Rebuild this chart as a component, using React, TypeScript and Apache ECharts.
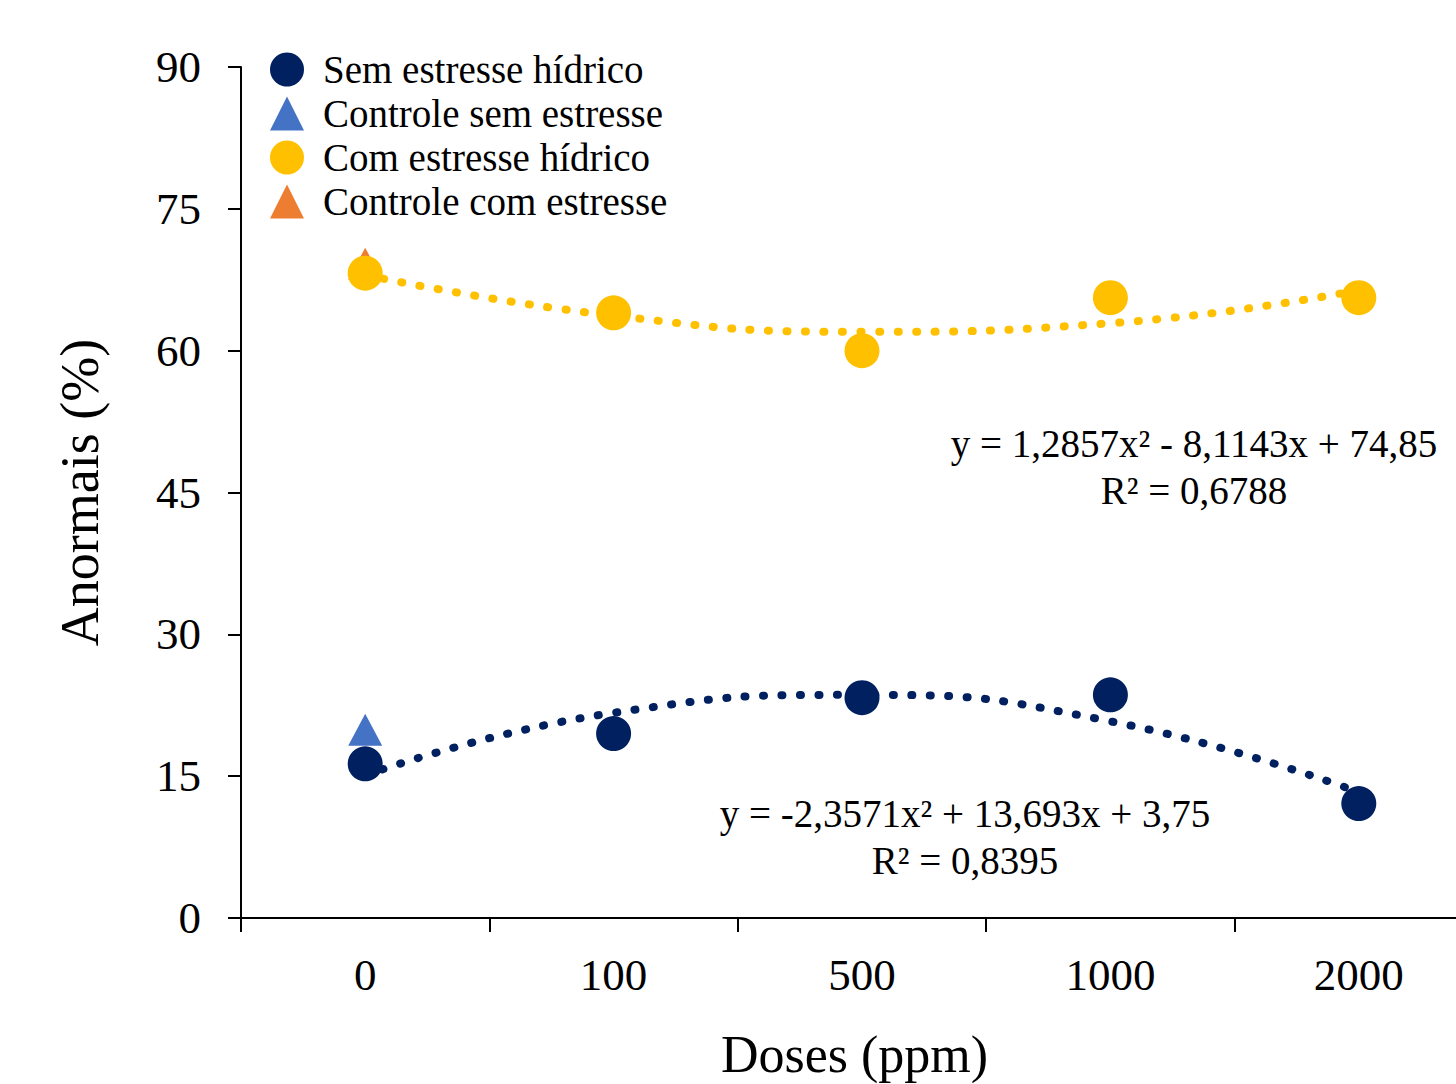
import React, { useEffect, useRef } from "react";
import * as echarts from "echarts";

const categories = ["0", "100", "500", "1000", "2000"];
const yTicks = { min: 0, max: 90, interval: 15 };

const semEstresse = [16.3, 19.5, 23.3, 23.6, 12.1];
const controleSem = [19.9, null, null, null, null];
const comEstresse = [68.2, 64.0, 60.0, 65.6, 65.6];
const controleCom = [69.2, null, null, null, null];

// trend line values read at each category (polynomial fits shown on chart)
const trendSem = [15.1, 21.7, 23.6, 20.8, 13.3];
const trendCom = [68.0, 63.7, 62.0, 62.9, 66.4];

const eqCom = ["y = 1,2857x² - 8,1143x + 74,85", "R² = 0,6788"];
const eqSem = ["y = -2,3571x² + 13,693x + 3,75", "R² = 0,8395"];

const NAVY = "#002060";
const BLUE = "#4472C4";
const YELLOW = "#FFC000";
const ORANGE = "#ED7D31";
const FONT = "'Liberation Serif', 'Times New Roman', serif";

export default function App() {
  const ref = useRef<HTMLDivElement>(null);
  useEffect(() => {
    document.body.style.margin = "0";
    const chart = echarts.init(ref.current!, null, { renderer: "svg" });
    const dotted = (color: string) => ({
      color,
      width: 8,
      type: [1, 17.5] as any,
      cap: "round" as any,
      opacity: 1,
    });
    const eqText = (x: number, y: number, text: string) => ({
      type: "text",
      x,
      y,
      style: { text, font: `39px ${FONT}`, fill: "#000", textAlign: "center", textVerticalAlign: "middle" },
    });
    chart.setOption({
      animation: false,
      backgroundColor: "#ffffff",
      textStyle: { fontFamily: FONT, color: "#000" },
      grid: { left: 241, top: 67, width: 1242, height: 851, outerBoundsMode: "none", containLabel: false },
      legend: {
        orient: "vertical",
        left: 270,
        top: 50,
        padding: 0,
        itemWidth: 34,
        itemHeight: 34,
        itemGap: 5,
        textStyle: { fontFamily: FONT, fontSize: 39, color: "#000", padding: [0, 0, 0, 14] },
        data: [
          { name: "Sem estresse hídrico", icon: "circle" },
          { name: "Controle sem estresse", icon: "triangle" },
          { name: "Com estresse hídrico", icon: "circle" },
          { name: "Controle com estresse", icon: "triangle" },
        ],
      },
      xAxis: {
        type: "category",
        data: categories,
        boundaryGap: true,
        axisLine: { lineStyle: { color: "#000", width: 2 } },
        axisTick: { show: true, length: 14, lineStyle: { color: "#000", width: 2 } },
        axisLabel: { fontFamily: FONT, fontSize: 45, color: "#000", margin: 34 },
        name: "Doses (ppm)",
        nameLocation: "middle",
        nameGap: 110,
        nameTextStyle: { fontFamily: FONT, fontSize: 52, color: "#000", padding: [0, 15, 0, 0] },
      },
      yAxis: {
        type: "value",
        min: yTicks.min,
        max: yTicks.max,
        interval: yTicks.interval,
        splitLine: { show: false },
        axisLine: { show: true, lineStyle: { color: "#000", width: 2 } },
        axisTick: { show: true, length: 13, lineStyle: { color: "#000", width: 2 } },
        axisLabel: { fontFamily: FONT, fontSize: 45, color: "#000", margin: 40 },
        name: "Anormais (%)",
        nameLocation: "middle",
        nameGap: 134,
        nameTextStyle: { fontFamily: FONT, fontSize: 54, color: "#000" },
      },
      series: [
        {
          name: "trendSem",
          type: "line",
          data: trendSem,
          smooth: 0.5,
          showSymbol: false,
          lineStyle: dotted(NAVY),
          z: 1,
        },
        {
          name: "trendCom",
          type: "line",
          data: trendCom,
          smooth: 0.5,
          showSymbol: false,
          lineStyle: dotted(YELLOW),
          z: 1,
        },
        {
          name: "Controle sem estresse",
          type: "scatter",
          data: controleSem,
          symbol: "triangle",
          symbolSize: [34, 32],
          itemStyle: { color: BLUE, opacity: 1 },
          z: 2,
        },
        {
          name: "Controle com estresse",
          type: "scatter",
          data: controleCom,
          symbol: "triangle",
          symbolSize: [34, 32],
          itemStyle: { color: ORANGE, opacity: 1 },
          z: 2,
        },
        {
          name: "Sem estresse hídrico",
          type: "scatter",
          data: semEstresse,
          symbol: "circle",
          symbolSize: 35,
          itemStyle: { color: NAVY, opacity: 1 },
          z: 3,
        },
        {
          name: "Com estresse hídrico",
          type: "scatter",
          data: comEstresse,
          symbol: "circle",
          symbolSize: 35,
          itemStyle: { color: YELLOW, opacity: 1 },
          z: 3,
        },
      ],
      graphic: [
        eqText(1194, 443, eqCom[0]),
        eqText(1194, 490, eqCom[1]),
        eqText(965, 813, eqSem[0]),
        eqText(965, 860, eqSem[1]),
      ],
    });
    return () => chart.dispose();
  }, []);
  return <div ref={ref} style={{ width: 1456, height: 1084 }} />;
}
